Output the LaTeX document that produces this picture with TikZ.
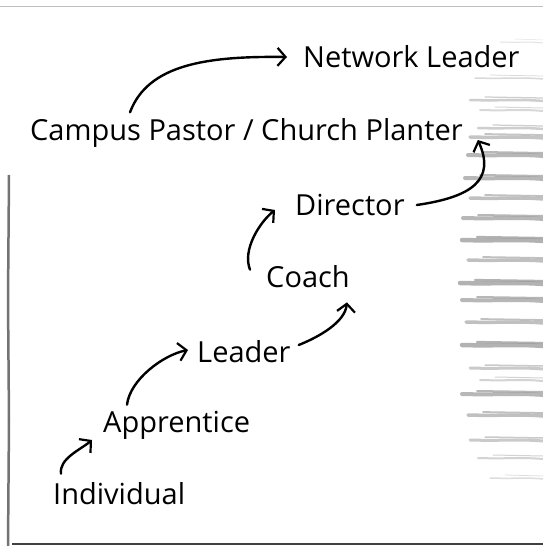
\documentclass[tikz,border=0pt]{standalone}
\usepackage{fontspec}
\setmainfont{Open Sans}
\usetikzlibrary{arrows.meta}
\begin{document}
\begin{tikzpicture}[x=1pt,y=-1pt,
  lbl/.style={inner sep=0pt,anchor=west,font=\fontsize{29}{32}\selectfont},
  arr/.style={line width=2.4pt,line cap=round,-{Straight Barb[length=8pt,width=18pt,line width=2.2pt]}},
  tex/.style={gray!75,line cap=round},
  edge/.style={black!75,line width=2.5pt}]
\useasboundingbox[fill=white] (0,0) rectangle (543,546);
% top rule and paper edges
\draw[gray!50,line width=1pt] (0,6) -- (543,6);
\draw[edge,black!55] (9,175) -- (8,300) -- (9,420) -- (8,546);
\draw[edge] (12,544) -- (543,544);
% texture strokes on the right
\foreach \y/\a/\w/\o in {42/500/1/0.3,78/475/1.5/0.4,100/470/2.5/0.5,110/480/2/0.4,128/478/2.5/0.5,
  137/470/3.5/0.6,155/468/4/0.75,178/465/4/0.75,198/470/3.5/0.65,218/463/4/0.75,240/462/4.5/0.8,
  260/468/3.5/0.65,283/460/4.5/0.8,300/462/4/0.75,322/466/3.5/0.65,345/462/4.5/0.8,368/470/3/0.55,
  380/480/2/0.45,394/462/4/0.75,415/468/3.5/0.65,440/470/3/0.55,458/478/2/0.45,478/490/1.5/0.35}
  {\draw[tex,line width=\w pt,opacity=\o] (\a,\y) .. controls (\a+30,\y+1) and (520,\y-1) .. (543,\y+1);
   \draw[tex,line width=0.5*\w pt,opacity=\o] (\a+15,\y-3) -- (543,\y-2);}
% labels
\node[lbl] (network) at (303,57) {Network Leader};
\node[lbl] (campus) at (30,133) {Campus Pastor / Church Planter};
\node[lbl] (director) at (295,205) {Director};
\node[lbl] (coach) at (266,277) {Coach};
\node[lbl] (leader) at (197,352) {Leader};
\node[lbl] (apprentice) at (103,425) {Apprentice};
\node[lbl] (individual) at (53,494) {Individual};
% arrows
\draw[arr] ([shift={(100,-6)}]campus.north west) .. controls +(18,-48) and +(-80,-1) .. ([xshift=-16pt]network.west);
\draw[arr] ([xshift=12pt]director.east) .. controls +(55,-8) and +(18,40) .. ([shift={(15,7)}]campus.east);
\draw[arr] ([shift={(-16,4)}]coach.north west) .. controls +(-8,-20) and +(-15,12) .. ([shift={(-20,5)}]director.west);
\draw[arr] ([shift={(8,-7)}]leader.east) .. controls +(20,-8) and +(-2,20) .. ([shift={(-3,14)}]coach.south east);
\draw[arr] ([shift={(24,-6)}]apprentice.north west) .. controls +(3,-25) and +(-25,5) .. ([shift={(-9,-2)}]leader.west);
\draw[arr] ([shift={(8,-9)}]individual.north west) .. controls +(-2,-15) and +(-12,10) .. ([shift={(-11,15)}]apprentice.west);
\end{tikzpicture}
\end{document}
